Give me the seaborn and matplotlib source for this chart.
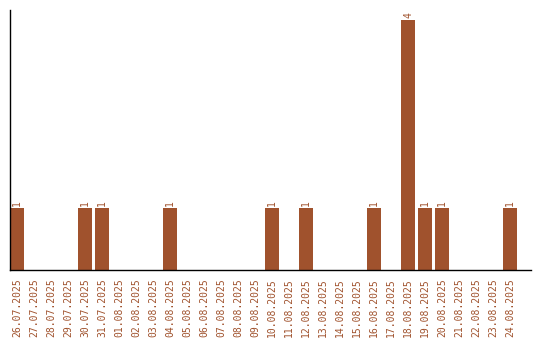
import matplotlib
matplotlib.use("Agg")
import matplotlib.pyplot as plt
import seaborn as sns
import pandas as pd

dates = ["26.07.2025", "27.07.2025", "28.07.2025", "29.07.2025", "30.07.2025",
         "31.07.2025", "01.08.2025", "02.08.2025", "03.08.2025", "04.08.2025",
         "05.08.2025", "06.08.2025", "07.08.2025", "08.08.2025", "09.08.2025",
         "10.08.2025", "11.08.2025", "12.08.2025", "13.08.2025", "14.08.2025",
         "15.08.2025", "16.08.2025", "17.08.2025", "18.08.2025", "19.08.2025",
         "20.08.2025", "21.08.2025", "22.08.2025", "23.08.2025", "24.08.2025"]
counts = [1, 0, 0, 0, 1, 1, 0, 0, 0, 1,
          0, 0, 0, 0, 0, 1, 0, 1, 0, 0,
          0, 1, 0, 4, 1, 1, 0, 0, 0, 1]

color = "#A0522D"
df = pd.DataFrame({"date": dates, "count": counts})

sns.set_style("white")
plt.rcParams["font.family"] = ["DejaVu Sans Mono", "DejaVu Sans"]

fig = plt.figure(figsize=(5.4, 3.4), dpi=100)
W, H = 540, 340
left, right, top, bottom = 10, 531, 10, 270
ax = fig.add_axes([left / W, 1 - bottom / H, (right - left) / W, (bottom - top) / H])

bw = 14 / 17
sns.barplot(data=df, x="date", y="count", color=color, width=bw, ax=ax,
            saturation=1, edgecolor="none", linewidth=0)

for i, v in enumerate(counts):
    if v > 0:
        ax.text(i, v + 0.03, str(v), rotation=90, ha="center", va="bottom",
                color=color, fontsize=7)

ax.set_xlim(-bw / 2, -bw / 2 + (right - left) / 17)
ax.set_ylim(0, 260 / 62.5)
ax.set_xlabel("")
ax.set_ylabel("")
ax.set_yticks([])
ax.tick_params(axis="x", length=0, pad=6, labelsize=7, labelcolor=color)
ax.set_xticks(range(len(dates)))
ax.set_xticklabels(dates, rotation=90)
for s in ["top", "right"]:
    ax.spines[s].set_visible(False)
for s in ["left", "bottom"]:
    ax.spines[s].set_color("black")
    ax.spines[s].set_linewidth(1)

fig.savefig("out.png", dpi=100)
